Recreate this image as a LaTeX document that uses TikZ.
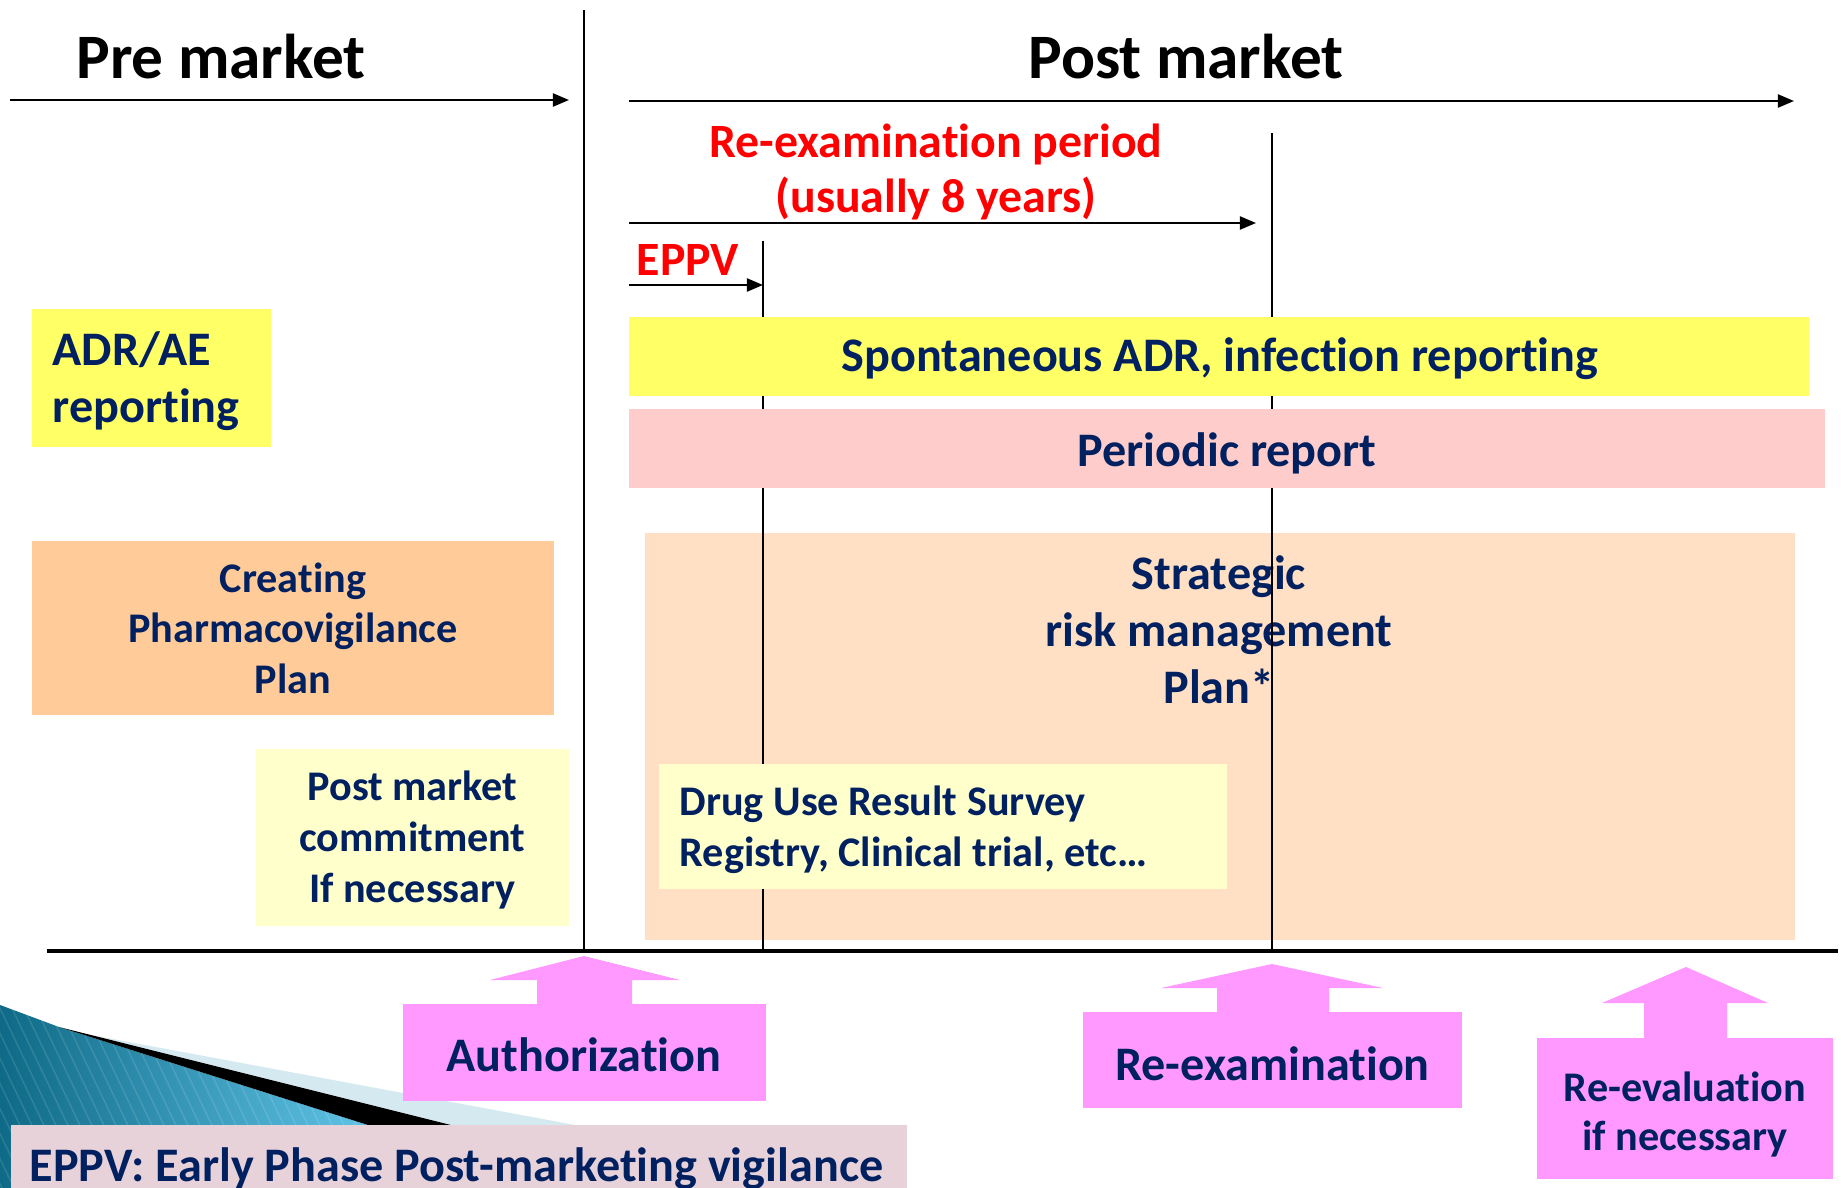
\documentclass[tikz,border=0pt]{standalone}
\usepackage{fontspec}
\setmainfont{Carlito}[Ligatures=NoCommon]
\usetikzlibrary{arrows.meta}
\definecolor{navy}{HTML}{002060}
\definecolor{ylw}{HTML}{FFFF66}
\definecolor{pinkbox}{HTML}{FFCCCC}
\definecolor{peach}{HTML}{FFE0C5}
\definecolor{orng}{HTML}{FFCC99}
\definecolor{lightylw}{HTML}{FFFFCC}
\definecolor{mag}{HTML}{FF99FF}
\definecolor{greybox}{HTML}{E8D2DA}
\definecolor{tealdark}{HTML}{0E6A86}
\definecolor{teallight}{HTML}{62C6EA}
\definecolor{paleblue}{HTML}{D5E9F0}
\newcommand\normspace{\spaceskip=0pt\xspaceskip=0pt\relax}
\begin{document}
\begin{tikzpicture}[x=0.01cm,y=-0.01cm,
  box/.style={draw=none, inner sep=0pt, outer sep=0pt},
  big/.style={font=\fontsize{13.7}{16.2}\selectfont\bfseries, text=navy, inner sep=0pt},
  mid/.style={font=\fontsize{12.0}{14.4}\selectfont\bfseries, text=navy, inner sep=0pt},
  redtxt/.style={font=\fontsize{13.6}{15.5}\selectfont\bfseries, text=red, inner sep=0pt},
  head/.style={font=\fontsize{18}{22}\selectfont\bfseries, text=black, anchor=base},
  tline/.style={line width=0.6pt, -{Triangle[length=0.16cm,width=0.13cm]}},
  vline/.style={line width=0.6pt},
]
\useasboundingbox[fill=white] (0,0) rectangle (1841,1188);

% decoration bottom-left
\begin{scope}
\clip (0,1005) -- (59,1027) -- (368,1125) -- (368,1188) -- (0,1188) -- cycle;
\shade[left color=tealdark, right color=teallight] (0,1000) rectangle (380,1188);
\foreach \i in {-400,-388,...,380}
  \draw[white, opacity=0.12, line width=0.4pt] (\i,1000) -- (\i+90,1188);
\end{scope}
\fill[paleblue] (91,1035) -- (575,1125) -- (451,1125) -- cycle;
\fill[black] (59,1027) -- (451,1125) -- (368,1125) -- cycle;

% strategic box (behind the vertical lines)
\node[box, fill=peach, minimum width=11.5cm, minimum height=4.07cm] (strat) at (1220,736.5) {};
\node[big, align=center] (strattxt) at (1219,630) {Strategic\\risk management\\Plan*};

% timeline lines
\coordinate (mvTop) at (584,10);   \coordinate (mvBot) at (584,949);
\coordinate (e1Top) at (763,241);  \coordinate (e1Bot) at (763,949);
\coordinate (r1Top) at (1272,133); \coordinate (r1Bot) at (1272,949);
\coordinate (blL) at (47,951);     \coordinate (blR) at (1838,951);
\coordinate (preS) at (10,100);    \coordinate (preE) at (569,100);
\coordinate (postS) at (629,101);  \coordinate (postE) at (1794,101);
\coordinate (rpS) at (629,223);    \coordinate (rpE) at (1256,223);
\coordinate (epS) at (629,285);

\draw[vline] (mvTop) -- (mvBot);
\draw[vline] (e1Top) -- (e1Bot);
\draw[vline] (r1Top) -- (r1Bot);
\draw[line width=0.9pt] (blL) -- (blR);
\draw[tline] (preS) -- (preE);
\draw[tline] (postS) -- (postE);
\draw[tline] (rpS) -- (rpE);
\draw[tline] (epS) -- (e1Top |- epS);

% headings
\node[head] (pre) at (221,79) {Pre market};
\node[head] (post) at (1186,79) {Post market};
\node[redtxt, align=center] (reperiod) at (936,172) {Re-examination period\\(usually 8 years)};
\node[redtxt, anchor=base west] (eppvlbl) at (636,276) {EPPV};

% boxes
\node[box, fill=ylw, minimum width=11.8cm, minimum height=0.79cm] (spont) at (1219,356.5) {};
\node[big, anchor=base] (sponttxt) at (1220,372) {Spontaneous ADR, infection reporting};
\node[box, fill=pinkbox, minimum width=11.96cm, minimum height=0.79cm] (periodic) at (1227,448.5) {};
\node[big, anchor=base] (periodictxt) at (1227,466) {Periodic report};
\node[box, fill=ylw, minimum width=2.39cm, minimum height=1.38cm] (adr) at (151.5,378) {};
\node[big, align=left, anchor=west] (adrtxt) at (52,381) {\normspace ADR/AE\\reporting};
\node[box, fill=orng, minimum width=5.22cm, minimum height=1.74cm] (create) at (293,628) {};
\node[mid, align=center] (createtxt) at (293,628) {Creating\\Pharmacovigilance\\Plan};
\node[box, fill=lightylw, minimum width=3.13cm, minimum height=1.77cm] (commit) at (412.5,837.5) {};
\node[mid, align=center] (committxt) at (412.5,840) {Post market\\commitment\\If necessary};
\node[box, fill=lightylw, minimum width=5.68cm, minimum height=1.25cm] (drug) at (943,826.5) {};
\node[mid, align=left, anchor=west] (drugtxt) at (679,829.5) {\normspace Drug Use Result Survey\\Registry, Clinical trial, etc\dots};

% pink block arrows
\node[box, fill=mag, minimum width=3.63cm, minimum height=0.97cm] (auth) at (584.5,1052.5) {};
\node[big, anchor=base] (authtxt) at (584,1071) {Authorization};
\fill[mag] (537,1005) -- (537,980) -- (490,980) -- (584,956) -- (680,980) -- (632,980) -- (632,1005) -- cycle;
\node[box, fill=mag, minimum width=3.79cm, minimum height=0.96cm] (reexam) at (1272.5,1060) {};
\node[big, anchor=base] (reexamtxt) at (1272.5,1080) {Re-examination};
\fill[mag] (1217,1013) -- (1217,988) -- (1161,988) -- (1272,964) -- (1383,988) -- (1329,988) -- (1329,1013) -- cycle;
\node[box, fill=mag, minimum width=2.96cm, minimum height=1.41cm] (reeval) at (1685,1108.5) {};
\node[align=center, font=\fontsize{12.0}{14.2}\selectfont\bfseries, text=navy, inner sep=0pt] (reevaltxt) at (1685,1114.5) {Re-evaluation\\if necessary};
\fill[mag] (1644,1039) -- (1644,1003) -- (1602,1003) -- (1686,967) -- (1768,1003) -- (1727,1003) -- (1727,1039) -- cycle;

% bottom legend
\node[box, fill=greybox, minimum width=8.96cm, minimum height=0.80cm] (legend) at (459,1165) {};
\node[big, anchor=base west] (legendtxt) at (29,1181) {EPPV: Early Phase Post-marketing vigilance};
\end{tikzpicture}
\end{document}
